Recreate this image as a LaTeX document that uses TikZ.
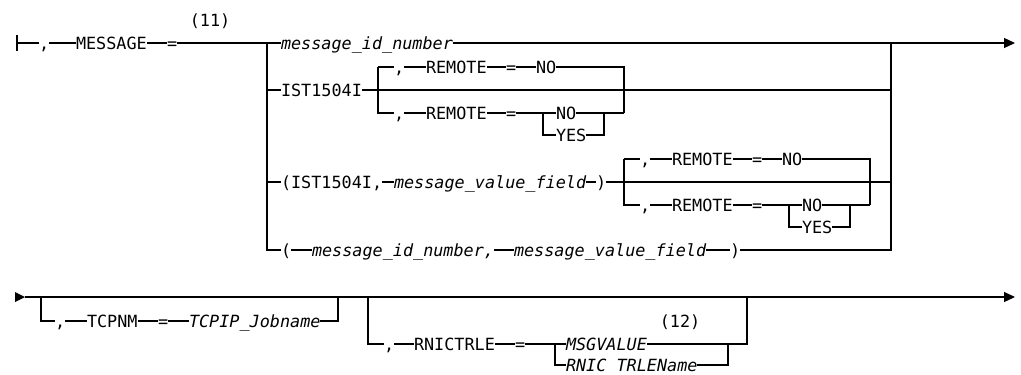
\documentclass[tikz,border=0pt]{standalone}
\usepackage{fontspec}
\newfontfamily\rrfont{DejaVu Sans Mono}[ItalicFont={DejaVu Sans Mono Oblique}]
\newcommand\rrsz{\fontsize{16.8}{18}\selectfont}
\usetikzlibrary{arrows.meta}
\tikzset{
  tok/.style={font=\rrfont\rrsz, inner sep=0pt, outer sep=0pt, text height=12pt, text depth=0pt, anchor=west},
  var/.style={tok, font=\rrfont\itshape\rrsz},
  note/.style={font=\rrfont\rrsz, inner sep=0pt, anchor=center},
  endarrow/.style={-{Triangle[length=11pt,width=10pt]}}
}
\newcommand\remblk[3]{%
  \begin{scope}[shift={(#2,#3)}]
    \coordinate (#1tl) at (0,-23);
    \coordinate (#1bl) at (0,23);
    \node[tok] (#1c1) at (16,-23) {,};
    \node[tok] (#1r1) at (48,-23) {REMOTE};
    \node[tok] (#1e1) at (128,-23) {=};
    \node[tok] (#1n1) at (158,-23) {NO};
    \coordinate (#1tr) at (246,-23);
    \node[tok] (#1c2) at (16,23) {,};
    \node[tok] (#1r2) at (48,23) {REMOTE};
    \node[tok] (#1e2) at (128,23) {=};
    \coordinate (#1sl) at (165,23);
    \node[tok] (#1n2) at (178,23) {NO};
    \node[tok] (#1y2) at (178,45) {YES};
    \coordinate (#1sr) at (226,23);
    \coordinate (#1br) at (246,23);
  \end{scope}
  \draw (#1tl) -- (#1c1.west);
  \draw (#1c1.east) -- (#1r1.west);
  \draw (#1r1.east) -- (#1e1.west);
  \draw (#1e1.east) -- (#1n1.west);
  \draw (#1n1.east) -- (#1tr) -- (#1br);
  \draw (#1tl) -- (#1bl) -- (#1c2.west);
  \draw (#1c2.east) -- (#1r2.west);
  \draw (#1r2.east) -- (#1e2.west);
  \draw (#1e2.east) -- (#1n2.west);
  \draw (#1n2.east) -- (#1br);
  \draw (#1sl) |- (#1y2.west);
  \draw (#1y2.east) -| (#1sr);
}
\begin{document}
\begin{tikzpicture}[x=1pt,y=-1pt,line width=1.2pt]
\useasboundingbox (0,0) rectangle (1021,375);
% ---------- row 1 ----------
\coordinate (s0) at (17,43);
\draw ([yshift=8pt]s0) -- ([yshift=-8pt]s0);
\node[tok] (c1) at (39,43) {,};
\node[tok] (msg) at (76,43) {MESSAGE};
\node[tok] (eq1) at (167,43) {=};
\node[note] (n11) at (210,21) {(11)};
\coordinate (jL) at (267,43);
\node[var] (mid) at (281,43) {message\_id\_number};
\coordinate (jR) at (891,43);
\coordinate (end1) at (1015,43);
\draw (s0) -- (c1.west);
\draw (c1.east) -- (msg.west);
\draw (msg.east) -- (eq1.west);
\draw (eq1.east) -- (mid.west);
\draw (mid.east) -- (jR);
\draw[endarrow] (jR) -- (end1);
% row B
\node[tok] (ist) at (281,90) {IST1504I};
\draw (jL |- ist.west) -- (ist.west);
\draw (ist.east) -- (jR |- ist.east);
\remblk{a}{378}{90}
% row C
\node[tok] (ist2) at (281,182) {(IST1504I,};
\node[var] (mvf) at (394,182) {message\_value\_field};
\node[tok] (rp1) at (596,182) {)};
\draw (jL |- ist2.west) -- (ist2.west);
\draw (ist2.east) -- (mvf.west);
\draw (mvf.east) -- (rp1.west);
\draw (rp1.east) -- (jR |- rp1.east);
\remblk{b}{624}{182}
% row D
\node[tok] (lp) at (281,250) {(};
\node[var] (mid2) at (312,250) {message\_id\_number,};
\node[var] (mvf2) at (514,250) {message\_value\_field};
\node[tok] (rp2) at (730,250) {)};
\draw (jL) |- (lp.west);
\draw (lp.east) -- (mid2.west);
\draw (mid2.east) -- (mvf2.west);
\draw (mvf2.east) -- (rp2.west);
\draw (rp2.east) -| (jR);
% ---------- row 2 ----------
\coordinate (s2) at (25,297);
\coordinate (end2) at (1015,297);
\fill (15,292) -- (s2) -- (15,302) -- cycle;
\draw[endarrow] (s2) -- (end2);
% TCPNM
\coordinate (tL) at (41,297);
\coordinate (tR) at (338,297);
\node[tok] (c3) at (55,321) {,};
\node[tok] (tcp) at (87,321) {TCPNM};
\node[tok] (eq3) at (158,321) {=};
\node[var] (tjob) at (189,321) {TCPIP\_Jobname};
\draw (tL) |- (c3.west);
\draw (c3.east) -- (tcp.west);
\draw (tcp.east) -- (eq3.west);
\draw (eq3.east) -- (tjob.west);
\draw (tjob.east) -| (tR);
% RNICTRLE
\coordinate (rL) at (368,297);
\coordinate (rR) at (747,297);
\node[tok] (c4) at (384,344) {,};
\node[tok] (rn) at (414,344) {RNICTRLE};
\node[tok] (eq4) at (515,344) {=};
\coordinate (rsl) at (555,344);
\node[var] (msgv) at (566,344) {MSGVALUE};
\node[note] (n12) at (680,322) {(12)};
\node[var] (rnic) at (566,365) {RNIC TRLEName};
\coordinate (rsr) at (728,344);
\draw (rL) |- (c4.west);
\draw (c4.east) -- (rn.west);
\draw (rn.east) -- (eq4.west);
\draw (eq4.east) -- (msgv.west);
\draw (msgv.east) -| (rR);
\draw (rsl) |- (rnic.west);
\draw (rnic.east) -| (rsr);
\end{tikzpicture}
\end{document}
